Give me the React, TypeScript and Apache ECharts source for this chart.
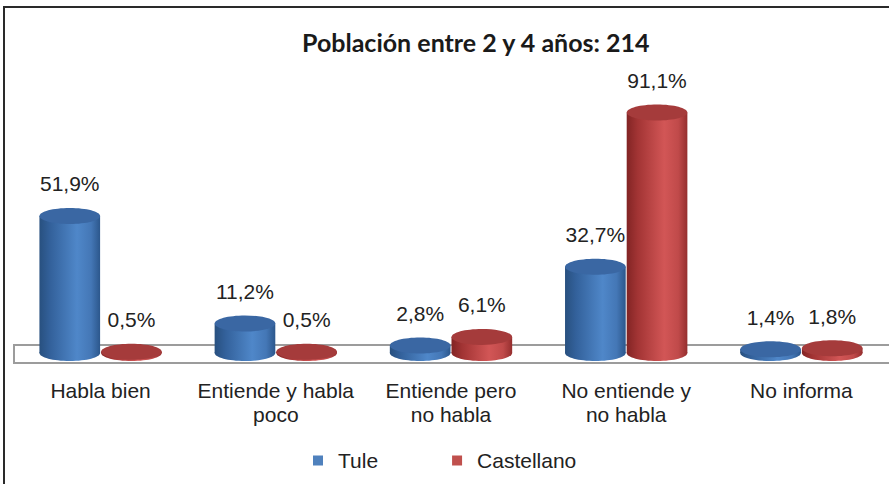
import React, { useEffect, useRef } from "react";
import * as echarts from "echarts";

const categories = [
  "Habla bien",
  "Entiende y habla\npoco",
  "Entiende pero\nno habla",
  "No entiende y\nno habla",
  "No informa",
];
const tule = [51.9, 11.2, 2.8, 32.7, 1.4];
const castellano = [0.5, 0.5, 6.1, 91.1, 1.8];
const seriesNames = ["Tule", "Castellano"];
const titleText = "Población entre 2 y 4 años: 214";

const FONT = "'Liberation Sans', Arial, sans-serif";

const blueGrad = () =>
  new echarts.graphic.LinearGradient(0, 0, 1, 0, [
    { offset: 0, color: "#28507f" },
    { offset: 0.18, color: "#33619b" },
    { offset: 0.62, color: "#4f87c9" },
    { offset: 0.85, color: "#4477b6" },
    { offset: 1, color: "#2c578c" },
  ]);
const redGrad = () =>
  new echarts.graphic.LinearGradient(0, 0, 1, 0, [
    { offset: 0, color: "#822424" },
    { offset: 0.18, color: "#a23434" },
    { offset: 0.62, color: "#d25656" },
    { offset: 0.85, color: "#c04a4a" },
    { offset: 1, color: "#952e2e" },
  ]);

const fmt = (v: number) => v.toFixed(1).replace(".", ",") + "%";

function makeRender(side: number) {
  return (params: any, api: any) => {
    const cat = api.value(0);
    const v = api.value(1);
    const base = api.coord([cat, 0]);
    const top = api.coord([cat, v]);
    const catW = api.size([1, 0])[0];
    const bw = catW * 0.352;
    const cx = base[0] + (side * bw) / 2;
    const rx = bw / 2 - 0.5;
    const ry = 8;
    const grad = side < 0 ? blueGrad() : redGrad();
    const topColor = side < 0 ? "#3a67a3" : "#a53b3b";
    return {
      type: "group",
      children: [
        { type: "ellipse", shape: { cx, cy: base[1], rx, ry }, style: { fill: grad } },
        {
          type: "rect",
          shape: { x: cx - rx, y: top[1], width: rx * 2, height: Math.max(base[1] - top[1], 0) },
          style: { fill: grad },
        },
        { type: "ellipse", shape: { cx, cy: top[1], rx, ry }, style: { fill: topColor } },
        {
          type: "text",
          style: {
            text: fmt(v),
            x: cx,
            y: top[1] - 32,
            align: "center",
            verticalAlign: "middle",
            fontSize: 21,
            fontFamily: FONT,
            fill: "#222222",
          },
        },
      ],
    };
  };
}

export default function App() {
  const ref = useRef<HTMLDivElement>(null);
  useEffect(() => {
    document.body.style.margin = "0";
    const chart = echarts.init(ref.current!, undefined, { renderer: "svg" });
    chart.setOption({
      animation: false,
      backgroundColor: "#ffffff",
      title: {
        text: titleText,
        left: 297,
        top: 24,
        textStyle: { fontFamily: "Lato, sans-serif", fontWeight: "bold", fontSize: 25, color: "#1a1a1a" },
      },
      legend: {
        data: seriesNames,
        left: 308,
        top: 445,
        itemWidth: 10,
        itemHeight: 10,
        itemGap: 74,
        icon: "rect",
        textStyle: { fontFamily: FONT, fontSize: 21, color: "#222222", padding: [0, 0, 0, 10] },
      },
      grid: { left: 13, top: 89, width: 882, height: 264, containLabel: false },
      xAxis: {
        type: "category",
        data: categories,
        axisLine: { show: false },
        axisTick: { show: false },
        axisLabel: {
          margin: 25,
          fontSize: 21,
          lineHeight: 24,
          color: "#222222",
          fontFamily: FONT,
          interval: 0,
        },
      },
      yAxis: { type: "value", min: 0, max: 100, show: false, splitLine: { show: false } },
      graphic: [
        {
          type: "rect",
          z: 0,
          shape: { x: 14, y: 345, width: 890, height: 18 },
          style: { fill: "#ffffff", stroke: "#9c9c9c", lineWidth: 2 },
        },
        {
          type: "rect",
          z: 0,
          shape: { x: 4, y: 7, width: 900, height: 500 },
          style: { fill: "none", stroke: "#2a2a2a", lineWidth: 2 },
        },
      ],
      series: [
        {
          name: seriesNames[0],
          type: "custom",
          itemStyle: { color: "#4f81bd" },
          data: tule.map((v, i) => [i, v]),
          renderItem: makeRender(-1),
          z: 3,
        },
        {
          name: seriesNames[1],
          type: "custom",
          itemStyle: { color: "#c0504d" },
          data: castellano.map((v, i) => [i, v]),
          renderItem: makeRender(1),
          z: 3,
        },
      ],
    });
    return () => chart.dispose();
  }, []);
  return <div ref={ref} style={{ width: 889, height: 484 }} />;
}
